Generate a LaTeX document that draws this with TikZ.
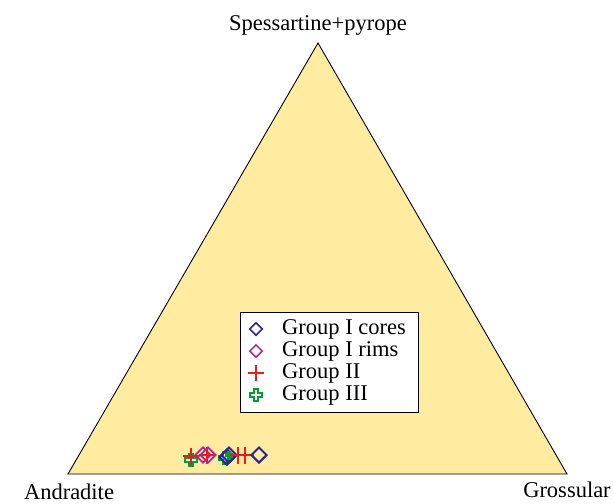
\documentclass[tikz,border=0pt]{standalone}
\usepackage{fontspec}
\setmainfont{Liberation Serif}
\usetikzlibrary{shapes.geometric}
\definecolor{tern-fill}{RGB}{255,236,160}
\definecolor{grp-blue}{RGB}{45,35,150}
\definecolor{grp-pink}{RGB}{180,35,145}
\definecolor{grp-red}{RGB}{230,30,30}
\definecolor{grp-green}{RGB}{0,160,50}

\begin{document}
\begin{tikzpicture}[x=1pt,y=-1pt,
    corner/.style={font=\fontsize{22.5}{22.5}\selectfont, inner sep=0pt, anchor=base},
    coremark/.style={diamond, draw=grp-blue, line width=2pt,
      minimum size=16pt, inner sep=0pt},
    rimmark/.style={diamond, draw=grp-pink, line width=1.7pt,
      minimum size=16pt, inner sep=0pt},
    plusmark/.style={minimum size=17pt, inner sep=0pt,
      path picture={\draw[grp-red, line width=1.5pt]
        (path picture bounding box.north) -- (path picture bounding box.south)
        (path picture bounding box.west) -- (path picture bounding box.east);}},
    crossmark/.style={minimum size=14pt, inner sep=0pt,
      path picture={\draw[grp-green, line width=1.8pt, fill=white]
        ([shift={(-2pt,-6pt)}]path picture bounding box.center)
        -- ++(4pt,0) -- ++(0,4pt) -- ++(4pt,0) -- ++(0,4pt)
        -- ++(-4pt,0) -- ++(0,4pt) -- ++(-4pt,0) -- ++(0,-4pt)
        -- ++(-4pt,0) -- ++(0,-4pt) -- ++(4pt,0) -- cycle;}},
    legtext/.style={font=\fontsize{22.5}{22.5}\selectfont, anchor=base west, inner sep=0pt}
  ]
  \useasboundingbox (0,0) rectangle (614,504);

  % ternary field
  \coordinate (sp) at (318,43);
  \coordinate (an) at (68,474);
  \coordinate (gr) at (567,474);
  \filldraw[fill=tern-fill, draw=black, line width=0.9pt] (sp) -- (an) -- (gr) -- cycle;

  \node[corner] (lsp) at (318,30) {Spessartine+pyrope};
  \node[corner] (lan) at (69,499) {Andradite};
  \node[corner] (lgr) at (567,497) {Grossular};

  % data
  \node[crossmark] (g3a) at (191,460) {};
  \node[plusmark] (g2a) at (191,456) {};
  \node[rimmark] (g1ra) at (203,455) {};
  \node[plusmark] (g2b) at (207,455) {};
  \node[rimmark] (g1rb) at (208,455) {};
  \node[crossmark] (g3b) at (225,458) {};
  \node[coremark] (g1ca) at (227,457) {};
  \node[coremark] (g1cb) at (229,455) {};
  \node[crossmark, scale=0.6] (g3c) at (229,455) {};
  \node[plusmark] (g2c) at (238,455) {};
  \node[plusmark] (g2d) at (245,455) {};
  \node[coremark] (g1cc) at (259,455) {};

  % legend
  \node[draw=black, fill=white, line width=1pt, minimum width=178pt,
    minimum height=100pt, anchor=north west, inner sep=0pt] (leg) at (240,312) {};
  \node[coremark, minimum size=13pt, line width=1.6pt] (k1) at (256,329) {};
  \node[rimmark, minimum size=13pt, line width=1.5pt] (k2) at (256,351) {};
  \node[plusmark, minimum size=16pt] (k3) at (256,373) {};
  \node[crossmark] (k4) at (256,395) {};
  \node[legtext] (t1) at (282,334) {Group I cores};
  \node[legtext] (t2) at (282,356) {Group I rims};
  \node[legtext] (t3) at (282,378) {Group II};
  \node[legtext] (t4) at (282,400) {Group III};
\end{tikzpicture}
\end{document}
